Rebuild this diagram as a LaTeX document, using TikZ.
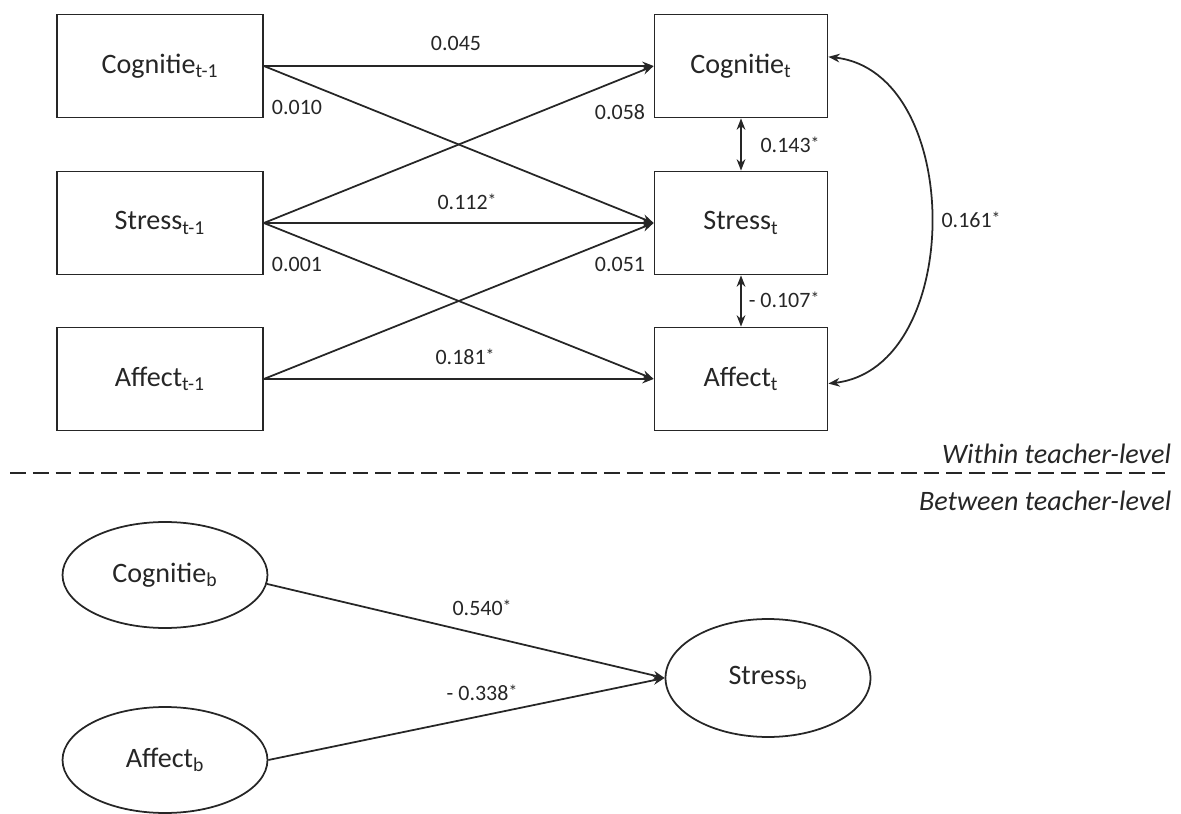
\documentclass[tikz,border=0pt]{standalone}
\usepackage{fontspec}
\setmainfont{Carlito}
\usetikzlibrary{shapes.geometric}
\usetikzlibrary{arrows.meta}
\newcommand{\sig}{\raisebox{.25ex}{\fontsize{10}{10}\selectfont *}}

\begin{document}
\begin{tikzpicture}
[x=0.02cm,y=-0.02cm,line width=1pt,color=black!85,>={Stealth[length=6.5pt,width=5pt]},
 var/.style={draw,minimum width=4.12cm,minimum height=2.06cm,font=\fontsize{16}{19}\selectfont},
 lat/.style={draw,ellipse,minimum width=4.1cm,minimum height=2.12cm,font=\fontsize{16}{19}\selectfont},
 coef/.style={font=\fontsize{12.5}{15}\selectfont,inner sep=0pt},
 lvl/.style={anchor=east,inner sep=0pt,font=\fontsize{16}{19}\selectfont\itshape}]

\useasboundingbox (0,0) rectangle (1181,814);

\node[var] (cog1) at (160,66) {Cognitie\textsubscript{t-1}};
\node[var] (str1) at (160,223) {Stress\textsubscript{t-1}};
\node[var] (aff1) at (160,379) {Affect\textsubscript{t-1}};

\node[var,minimum width=3.46cm] (cog2) at (741,66) {Cognitie\textsubscript{t}};
\node[var,minimum width=3.46cm] (str2) at (741,223) {Stress\textsubscript{t}};
\node[var,minimum width=3.46cm] (aff2) at (741,379) {Affect\textsubscript{t}};

\draw[->] (cog1.east) -- (cog2.west);
\draw[->] (cog1.east) -- (str2.west);
\draw[->] (str1.east) -- (cog2.west);
\draw[->] (str1.east) -- (str2.west);
\draw[->] (str1.east) -- (aff2.west);
\draw[->] (aff1.east) -- (str2.west);
\draw[->] (aff1.east) -- (aff2.west);

\draw[<->] (cog2.south) -- (str2.north);
\draw[<->] (str2.south) -- (aff2.north);
\draw[<->] (cog2.6) .. controls (965,72) and (965,368) .. (aff2.-3); %covariance

\node[coef] (b1) at (456,43) {0.045};
\node[coef] (b2) at (297,107) {0.010};
\node[coef] (b3) at (620,112) {0.058};
\node[coef] (b4) at (467,202) {0.112\sig};
\node[coef] (b5) at (297,264) {0.001};
\node[coef] (b6) at (620,264) {0.051};
\node[coef] (b7) at (465,357) {0.181\sig};
\node[coef] (r1) at (790,145) {0.143\sig};
\node[coef] (r2) at (784,300) {- 0.107\sig};
\node[coef] (r3) at (971,220) {0.161\sig};

\node[lvl] (within) at (1172,454) {Within teacher-level};
\coordinate (dl) at (10,473);
\coordinate (dr) at (1165,473);
\draw[dash pattern=on 9pt off 4pt] (dl) -- (dr); %levels
\node[lvl] (between) at (1172,501) {Between teacher-level};

\node[lat] (cogb) at (165,575) {Cognitie\textsubscript{b}};
\node[lat] (affb) at (165,760) {Affect\textsubscript{b}};
\node[lat,minimum height=2.36cm] (strb) at (768,678) {Stress\textsubscript{b}};

\draw[->] (cogb.-5) -- (strb.west);
\draw[->] (affb.east) -- (strb.west);

\node[coef] (w1) at (482,608) {0.540\sig};
\node[coef] (w2) at (482,693) {- 0.338\sig};

\end{tikzpicture}
\end{document}
